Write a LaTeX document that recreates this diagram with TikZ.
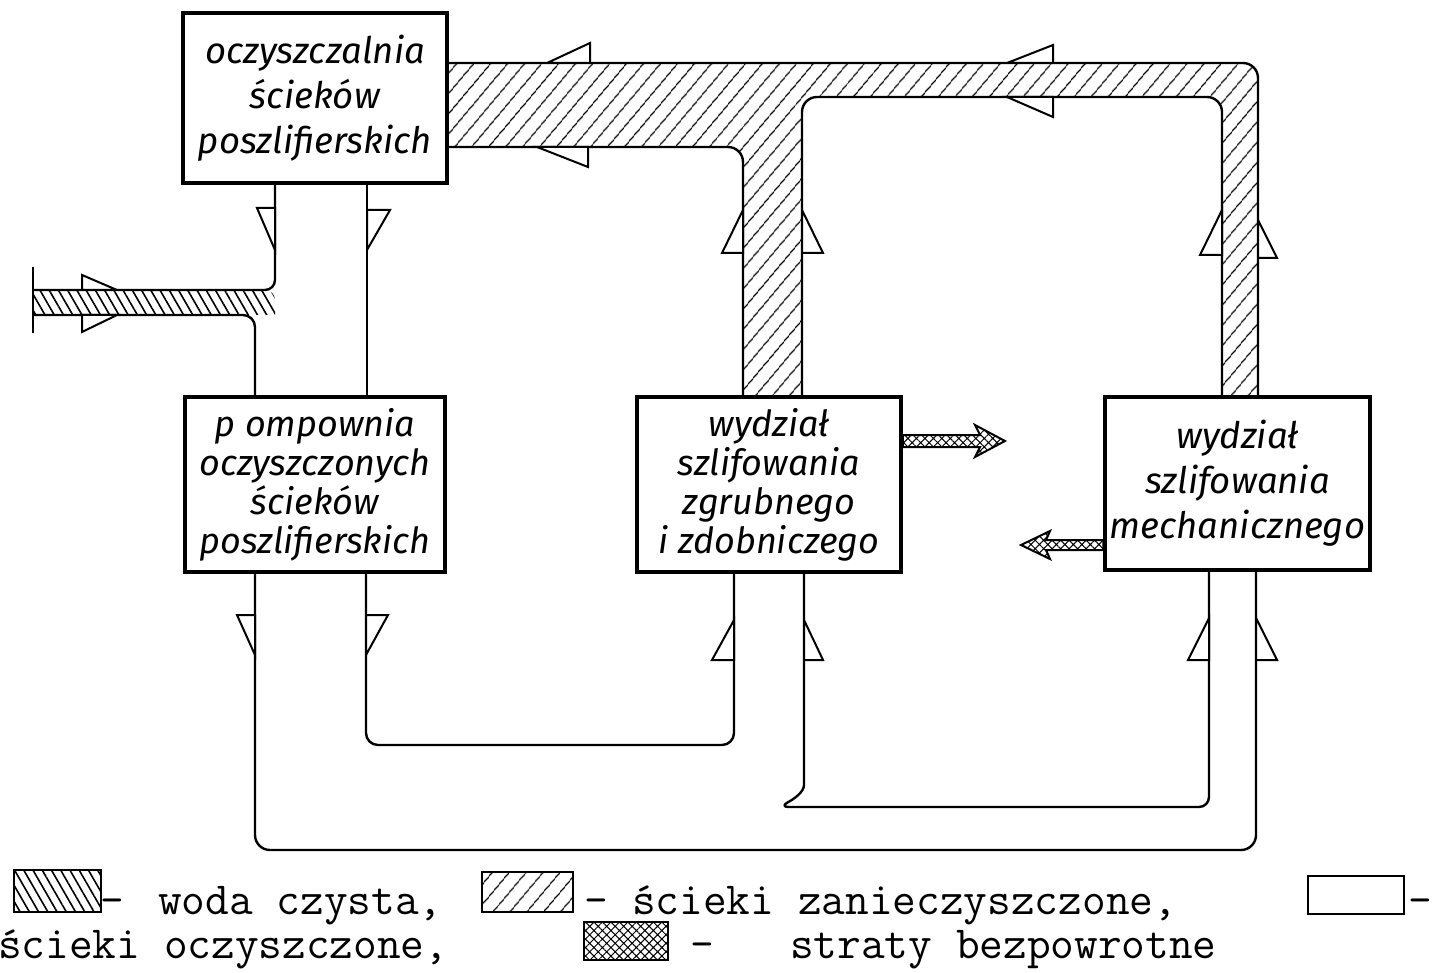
\documentclass[tikz,border=0pt]{standalone}
\usepackage{fontspec}
\newfontfamily\boxfont{Fira Sans}
\usetikzlibrary{patterns.meta}
\tikzset{
  box/.style={draw, line width=3.5pt, fill=white, align=center, inner sep=0pt,
    font=\boxfont\itshape\fontsize{36.5}{45}\selectfont},
  boxtight/.style={box, font=\boxfont\itshape\fontsize{36}{39}\selectfont},
  pipe/.style={line width=2.4pt, line join=round},
  half/.style={draw, fill=white, line width=2pt, line join=miter},
  dirty/.style={pattern={Lines[angle=50,distance=13pt,line width=1.4pt]}},
  clean/.style={pattern={Lines[angle=-60,distance=8pt,line width=1.6pt]}},
  loss/.style={pattern={Hatch[angle=45,distance=6pt,line width=1pt]}},
  legtext/.style={font=\ttfamily\fontsize{46}{50}\selectfont, anchor=base west, inner sep=0pt}
}
\begin{document}
\begin{tikzpicture}[x=1pt,y=-1pt]
\useasboundingbox (0,0) rectangle (1435,973);

% --- dirty water pipe (top) ---
\draw[pipe, dirty, rounded corners=15pt]
  (400,63) -- (1258,63) -- (1258,440) -- (1222,440) -- (1222,97)
  -- (802,97) -- (802,440) -- (743,440) -- (743,147) -- (400,147) -- cycle;

% --- clean water inlet ---
\fill[clean] (33,290) -- (265,290) arc(-90:0:10) -- (275,315) -- (33,315) -- cycle;
\draw[pipe, rounded corners=10pt] (33,290) -- (275,290) -- (275,183);
\draw[pipe, rounded corners=12pt] (33,315) -- (255,315) -- (255,397);
\draw[pipe] (33,267) -- (33,333);
\draw[pipe] (367,183) -- (367,397);

% --- treated water return lines ---
\draw[pipe, rounded corners=15pt] (255,572) -- (255,850) -- (1256,850) -- (1256,570);
\draw[pipe, rounded corners=12pt] (366,572) -- (366,745) -- (734,745) -- (734,572);
\draw[pipe, rounded corners=10pt] (804,572) -- (804,775) .. controls (804,792) and (794,799) .. (779,807)
  -- (1209,807) -- (1209,570);

% --- boxes ---
\node[box, minimum width=264pt, minimum height=170pt] (b1) at (315,98)
  {oczyszczalnia\\ścieków\\poszlifierskich};
\node[boxtight, minimum width=260pt, minimum height=175pt] (b2) at (315,484.5)
  {p ompownia\\oczyszczonych\\ścieków\\poszlifierskich};
\node[boxtight, minimum width=264pt, minimum height=175pt] (b3) at (769,484.5)
  {wydział\\szlifowania\\zgrubnego\\i zdobniczego};
\node[box, minimum width=265pt, minimum height=173pt] (b4) at (1237.5,483.5)
  {wydział\\szlifowania\\mechanicznego};

% --- half arrowheads ---
% top pipe
\draw[half] (547,63) -- (590,43) -- (590,63) -- cycle;
\draw[half] (537,147) -- (588,147) -- (588,167) -- cycle;
\draw[half] (1007,63) -- (1053,45) -- (1053,63) -- cycle;
\draw[half] (1007,97) -- (1053,97) -- (1053,117) -- cycle;
% vertical dirty pipes
\draw[half] (743,210) -- (722,253) -- (743,253) -- cycle;
\draw[half] (802,210) -- (823,253) -- (802,253) -- cycle;
\draw[half] (1222,210) -- (1200,255) -- (1222,255) -- cycle;
\draw[half] (1258,220) -- (1277,258) -- (1258,258) -- cycle;
% channel between b1 and b2
\draw[half] (257,208) -- (275,208) -- (275,250) -- cycle;
\draw[half] (367,210) -- (390,210) -- (367,250) -- cycle;
% inlet
\draw[half] (82,275) -- (82,290) -- (117,290) -- cycle;
\draw[half] (82,315) -- (82,332) -- (117,315) -- cycle;
% bottom lines
\draw[half] (237,615) -- (255,615) -- (255,655) -- cycle;
\draw[half] (366,615) -- (388,615) -- (366,655) -- cycle;
\draw[half] (734,620) -- (712,660) -- (734,660) -- cycle;
\draw[half] (804,620) -- (823,660) -- (804,660) -- cycle;
\draw[half] (1209,618) -- (1188,660) -- (1209,660) -- cycle;
\draw[half] (1256,618) -- (1277,660) -- (1256,660) -- cycle;

% --- losses ---
\draw[loss, line width=2pt, line join=miter]
  (b3.east |- 0,435) -- (980,435) -- (975,425) -- (1005,441) -- (975,457) -- (980,447) -- (b3.east |- 0,447) -- cycle;
\draw[loss, line width=2pt, line join=miter]
  (b4.west |- 0,540) -- (1046,540) -- (1050,531) -- (1021,545) -- (1050,559) -- (1046,550) -- (b4.west |- 0,550) -- cycle;

% --- legend ---
\draw[clean, line width=2pt] (14,870) rectangle (101,912);
\node[legtext] (d1) at (100,914) {-};
\node[legtext] (t1) at (158,914) {woda czysta,};
\draw[dirty, line width=2pt] (482,872) rectangle (573,912);
\node[legtext] (d2) at (584,914) {-};
\node[legtext] (t2) at (632,914) {ścieki zanieczyszczone,};
\draw[line width=2pt] (1308,876) rectangle (1404,914);
\node[legtext] (d3) at (1408,914) {-};
\node[legtext] (t4) at (-2,958) {ścieki oczyszczone,};
\draw[loss, line width=2pt] (584,922) rectangle (668,960);
\node[legtext] (d4) at (690,958) {-};
\node[legtext] (t6) at (790,958) {straty bezpowrotne};
\end{tikzpicture}
\end{document}
